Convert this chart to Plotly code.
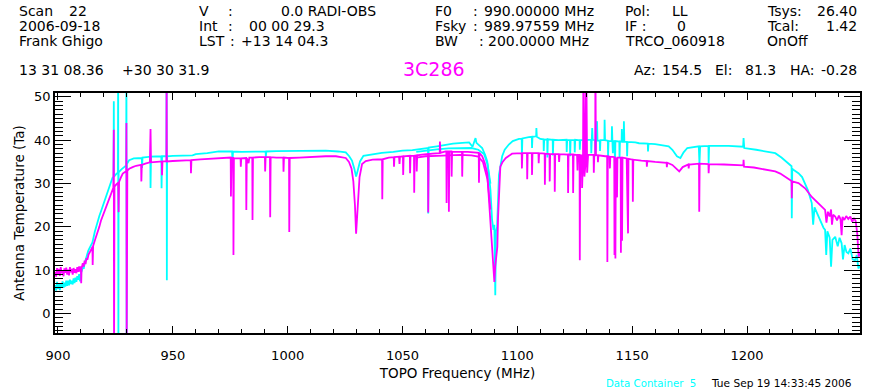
import plotly.graph_objects as go

# ---------------- data ----------------
# off-scale spikes are given as 60 (above the top) or -10 (below the bottom)
cyan_pairs = [
    (898.8, 6.6), (899.2, 5.3), (899.6, 7.3), (900.0, 5.7), (900.4, 7.0), (900.8, 5.4), (901.2, 6.9),
    (901.6, 6.0), (902.0, 7.4), (902.4, 5.9), (902.8, 7.1), (903.2, 6.2), (903.6, 7.6), (904.0, 6.4),
    (904.4, 7.6), (904.8, 6.5), (905.2, 7.8), (905.6, 6.8), (906.0, 7.6), (906.4, 6.7), (906.8, 8.1),
    (907.2, 7.0), (907.6, 8.3), (908.0, 7.3), (908.4, 8.6), (908.8, 7.8), (909.2, 9.1), (909.6, 7.4),
    (910.0, 9.4), (910.4, 9.9), (910.8, 10.9), (911.2, 10.3), (911.6, 11.6), (912.0, 12.3), (912.5, 13.4),
    (913.2, 14.5), (914.0, 15.4), (915.0, 16.4), (916.0, 18.8), (917.0, 20.9), (918.0, 22.5), (919.0, 24.0),
    (920.0, 25.6), (921.0, 27.0), (922.0, 28.5), (923.0, 30.0), (923.7, 31.3), (924.2, 31.6), (924.3, 49.0),
    (924.4, 31.6), (925.5, 32.3), (926.1, 32.5), (926.2, 60), (926.3, -10), (926.4, 32.6), (927.5, 33.2),
    (929.0, 34.0), (929.7, 34.2), (929.8, 60), (929.9, -10), (930.0, 34.5), (931.0, 35.4), (933.0, 35.8),
    (936.5, 35.9), (936.6, 33.6), (936.8, 36.0), (940.2, 36.2), (940.3, 29.0), (940.5, 36.2), (945.0, 36.3),
    (945.1, 28.9), (945.3, 36.3), (947.2, 36.3), (947.3, 60), (947.4, 7.7), (947.5, 36.3), (950.0, 36.4),
    (955.0, 36.5), (958.6, 36.5), (960.0, 36.8), (965.0, 37.0), (970.0, 37.4), (975.8, 37.4), (976.0, 35.1),
    (976.2, 37.4), (980.0, 37.3), (987.6, 37.4), (990.4, 37.4), (990.5, 36.0), (990.7, 37.4), (995.0, 37.5),
    (1000.0, 37.5), (1010.0, 37.6), (1016.6, 37.6), (1022.0, 37.4), (1025.3, 37.2), (1026.8, 36.3),
    (1028.0, 35.3), (1029.0, 33.5), (1029.8, 31.6), (1030.5, 33.0), (1031.5, 35.1), (1033.0, 36.4),
    (1038.0, 36.9), (1041.0, 37.1), (1046.0, 37.3), (1050.0, 37.6), (1054.3, 37.7), (1058.0, 38.0),
    (1061.1, 38.2), (1061.2, 23.1), (1061.4, 38.3), (1065.0, 38.6), (1068.8, 39.0), (1072.0, 39.2),
    (1076.0, 39.4), (1079.0, 39.5), (1080.5, 38.5), (1081.0, 39.5), (1081.8, 40.5), (1082.2, 39.4),
    (1084.7, 38.2), (1086.0, 36.6), (1086.9, 35.1), (1087.7, 31.5), (1088.3, 28.5), (1089.0, 21.6),
    (1089.6, 19.3), (1090.0, 20.5), (1090.4, 4.2), (1090.7, 19.0), (1091.2, 20.0), (1091.6, 26.0),
    (1092.0, 32.0), (1093.4, 36.3), (1094.5, 37.8), (1096.3, 39.0), (1098.0, 39.8), (1100.7, 40.3),
    (1101.9, 40.3), (1102.0, 36.3), (1102.2, 40.4), (1105.0, 40.7), (1106.3, 40.8), (1106.4, 38.2),
    (1106.6, 40.8), (1108.2, 40.9), (1108.3, 42.8), (1108.5, 40.8), (1110.0, 40.3), (1111.4, 40.2),
    (1111.5, 37.5), (1111.7, 40.1), (1113.0, 40.2), (1113.1, 36.0), (1113.3, 40.2), (1115.4, 40.1),
    (1115.5, 36.5), (1115.7, 40.1), (1118.0, 40.0), (1120.0, 40.1), (1121.4, 40.1), (1121.5, 37.3),
    (1121.7, 40.0), (1122.9, 40.0), (1123.0, 36.3), (1123.2, 40.0), (1124.9, 40.0), (1125.0, 37.2),
    (1125.2, 40.1), (1127.1, 40.0), (1127.2, 37.8), (1127.4, 40.0), (1128.9, 40.0), (1129.0, 35.5),
    (1129.2, 40.0), (1131.0, 40.1), (1132.1, 40.1), (1132.2, 37.0), (1132.4, 40.1), (1132.6, 42.8),
    (1132.8, 40.1), (1133.9, 40.0), (1134.0, 36.3), (1134.2, 40.0), (1134.7, 44.4), (1134.9, 39.9),
    (1135.9, 39.9), (1136.0, 37.5), (1136.2, 40.0), (1137.9, 40.0), (1138.0, 44.7), (1138.2, 40.0),
    (1139.4, 39.9), (1139.5, 36.2), (1139.7, 39.8), (1141.1, 39.8), (1141.2, 43.2), (1141.4, 39.8),
    (1141.6, 37.0), (1141.8, 39.8), (1142.4, 39.8), (1142.5, 32.4), (1142.7, 39.8), (1144.4, 39.7),
    (1144.5, 36.0), (1144.7, 39.7), (1145.4, 39.7), (1145.5, 42.6), (1145.7, 39.6), (1146.3, 39.6),
    (1146.4, 44.4), (1146.6, 39.6), (1147.7, 39.6), (1147.8, 36.3), (1148.0, 39.6), (1151.4, 39.5),
    (1153.0, 39.3), (1156.8, 39.2), (1156.9, 37.4), (1157.1, 39.2), (1160.0, 39.1), (1163.0, 38.9),
    (1165.9, 38.6), (1167.5, 37.8), (1169.5, 36.3), (1171.0, 35.9), (1172.4, 37.2), (1174.0, 38.2),
    (1176.0, 38.4), (1179.0, 38.6), (1179.3, 34.5), (1179.6, 38.6), (1183.2, 38.7), (1183.3, 34.7),
    (1183.5, 38.7), (1192.0, 38.7), (1198.3, 38.5), (1198.5, 40.5), (1198.8, 38.2), (1204.0, 37.8),
    (1207.9, 37.4), (1212.3, 37.0), (1215.0, 36.0), (1218.0, 34.7), (1219.4, 34.0), (1219.5, 22.0),
    (1219.7, 33.4), (1220.2, 33.2), (1222.4, 32.4), (1224.0, 31.5), (1225.3, 30.1), (1226.5, 28.5),
    (1228.2, 25.5), (1228.8, 20.5), (1229.4, 24.5), (1231.1, 22.4), (1232.5, 21.0), (1233.3, 19.8),
    (1234.0, 19.3), (1234.5, 13.5), (1235.0, 19.0), (1236.0, 17.5), (1236.6, 10.8), (1237.2, 17.0),
    (1238.4, 17.7), (1239.5, 15.5), (1240.3, 17.5), (1241.2, 16.2), (1241.8, 12.5), (1242.5, 15.8),
    (1243.3, 14.2), (1244.1, 13.9), (1245.0, 15.0), (1246.0, 12.5), (1247.0, 12.3), (1247.8, 13.5),
    (1248.5, 10.4), (1249.2, 11.0),
]

magenta_pairs = [
    (898.8, 9.6), (899.2, 8.5), (899.6, 10.5), (900.0, 9.0), (900.4, 10.3), (900.8, 8.7), (901.2, 10.7),
    (901.6, 9.3), (902.0, 10.0), (902.4, 8.6), (902.8, 10.4), (903.2, 9.4), (903.6, 10.6), (904.0, 9.0),
    (904.4, 10.1), (904.8, 8.8), (905.2, 10.7), (905.6, 9.5), (906.0, 10.3), (906.4, 9.0), (906.8, 10.5),
    (907.2, 9.4), (907.6, 10.2), (908.0, 9.3), (908.4, 10.7), (908.8, 9.6), (909.2, 10.9), (909.6, 9.7),
    (910.0, 10.9), (910.1, 7.0), (910.3, 10.5), (910.8, 11.6), (911.2, 10.8), (911.6, 12.2), (912.0, 11.4),
    (912.4, 12.8), (912.8, 12.4), (913.3, 13.6), (913.7, 14.2), (914.3, 14.6), (915.0, 15.4), (915.1, 11.2),
    (915.3, 15.6), (916.0, 16.8), (916.7, 17.8), (917.3, 18.6), (918.0, 20.0), (918.7, 21.4), (919.5, 22.6),
    (920.3, 23.8), (921.0, 24.7), (921.8, 26.0), (922.6, 27.2), (923.4, 28.2), (924.1, 29.0), (924.3, 42.4),
    (924.4, -10), (924.6, 29.3), (925.4, 29.8), (926.2, 30.2), (926.4, 23.4), (926.6, 30.4), (927.4, 31.4),
    (928.2, 32.3), (929.0, 32.6), (929.7, 32.8), (929.8, 44.0), (929.9, -10), (930.2, 33.0), (931.0, 33.4),
    (932.5, 33.8), (934.0, 34.1), (936.2, 34.3), (936.3, 30.5), (936.5, 34.3), (938.0, 34.6), (940.0, 34.9),
    (940.3, 42.6), (940.5, 34.9), (943.0, 35.0), (945.2, 35.1), (945.3, 31.9), (945.5, 35.1), (947.2, 35.1),
    (947.3, 60), (947.4, 35.1), (950.0, 35.2), (955.0, 35.4), (957.8, 35.4), (957.9, 32.4), (958.1, 35.4),
    (962.0, 35.6), (966.0, 35.7), (970.0, 35.9), (973.0, 36.0), (975.2, 36.0), (975.3, 27.0), (975.6, 35.9),
    (976.3, 35.9), (976.4, 13.5), (976.6, 35.8), (979.5, 35.8), (979.6, 33.9), (979.8, 35.8), (981.9, 35.9),
    (982.0, 23.9), (982.2, 35.9), (983.0, 34.7), (983.3, 36.0), (984.6, 36.0), (984.7, 21.6), (984.9, 36.0),
    (987.6, 36.1), (990.1, 36.1), (990.2, 32.8), (990.4, 36.1), (992.3, 36.1), (992.4, 22.2), (992.6, 36.1),
    (995.0, 36.0), (998.1, 36.0), (998.2, 32.7), (998.4, 36.0), (1000.6, 35.9), (1000.7, 18.8),
    (1000.9, 35.9), (1005.0, 36.0), (1010.0, 36.2), (1016.6, 36.3), (1021.0, 36.3), (1025.3, 35.9),
    (1026.7, 35.0), (1027.8, 33.5), (1028.6, 30.5), (1029.3, 25.0), (1029.8, 18.4), (1030.2, 21.5),
    (1030.6, 27.0), (1031.3, 31.5), (1032.4, 34.5), (1034.0, 35.2), (1037.0, 35.5), (1041.1, 35.6),
    (1041.2, 26.4), (1041.4, 35.6), (1044.0, 36.0), (1046.2, 36.1), (1046.3, 33.9), (1046.5, 36.1),
    (1048.5, 36.2), (1048.7, 34.5), (1048.9, 36.2), (1050.2, 36.3), (1050.3, 32.0), (1050.5, 36.3),
    (1053.2, 36.4), (1053.3, 32.4), (1053.5, 36.4), (1055.0, 36.4), (1055.1, 27.9), (1055.3, 36.4),
    (1056.1, 36.5), (1056.2, 32.8), (1056.4, 36.5), (1058.5, 36.7), (1061.1, 36.8), (1061.2, 23.3),
    (1061.4, 36.8), (1063.0, 36.9), (1066.2, 37.0), (1066.3, 39.7), (1066.5, 37.1), (1068.8, 37.4),
    (1069.1, 37.4), (1069.2, 25.5), (1069.4, 37.4), (1070.1, 37.4), (1070.2, 23.5), (1070.4, 37.4),
    (1071.3, 37.4), (1071.4, 31.6), (1071.6, 37.3), (1074.0, 37.3), (1075.9, 37.3), (1076.0, 31.6),
    (1076.2, 37.3), (1078.5, 37.3), (1081.0, 37.2), (1083.2, 37.1), (1083.3, 30.2), (1083.5, 37.0),
    (1084.7, 36.3), (1085.8, 34.8), (1086.9, 32.4), (1087.7, 26.0), (1088.3, 21.0), (1089.0, 17.0),
    (1089.6, 12.5), (1090.0, 7.3), (1090.4, 11.0), (1090.8, 13.5), (1091.3, 15.4), (1091.6, 22.0),
    (1092.0, 27.0), (1092.6, 33.9), (1093.6, 35.0), (1095.0, 35.9), (1097.7, 36.9), (1100.0, 37.0),
    (1101.9, 37.0), (1102.0, 33.5), (1102.2, 37.0), (1104.2, 37.0), (1104.3, 31.0), (1104.5, 37.0),
    (1106.3, 37.0), (1106.4, 32.0), (1106.6, 37.0), (1109.2, 37.0), (1109.3, 34.7), (1109.5, 37.0),
    (1111.9, 36.9), (1112.0, 29.7), (1112.2, 36.9), (1114.0, 36.8), (1114.1, 30.5), (1114.3, 36.8),
    (1116.2, 36.8), (1116.3, 28.1), (1116.5, 36.8), (1118.0, 36.8), (1118.2, 35.0), (1118.4, 36.8),
    (1122.0, 36.7), (1122.1, 27.8), (1122.3, 36.7), (1124.2, 36.7), (1124.3, 27.8), (1124.5, 36.7),
    (1126.0, 36.6), (1126.2, 33.0), (1126.4, 36.6), (1127.1, 36.6), (1127.2, 12.3), (1127.4, 36.5),
    (1128.1, 36.5), (1128.2, 29.0), (1128.6, 36.0), (1128.8, 60), (1129.2, 31.6), (1129.6, 34.0),
    (1130.0, 60), (1130.4, 32.5), (1130.8, 36.6), (1133.2, 36.6), (1133.3, 32.5), (1133.5, 36.6),
    (1133.9, 36.6), (1134.0, 60), (1134.2, 36.6), (1135.0, 36.5), (1135.1, 34.9), (1135.3, 36.5),
    (1138.3, 36.3), (1139.1, 36.3), (1139.2, 11.9), (1139.4, 36.3), (1140.2, 36.2), (1140.3, 33.5),
    (1140.5, 36.2), (1142.2, 36.1), (1142.3, 13.5), (1142.5, 36.1), (1142.7, 12.7), (1142.9, 36.0),
    (1143.4, 26.8), (1143.6, 36.0), (1145.0, 36.0), (1145.1, 14.0), (1145.3, 36.0), (1145.6, 16.8),
    (1145.8, 36.0), (1147.6, 35.8), (1147.7, 30.9), (1147.9, 35.8), (1148.2, 18.5), (1148.4, 35.7),
    (1150.2, 35.5), (1150.3, 25.8), (1150.5, 35.5), (1154.0, 35.3), (1156.3, 35.2), (1156.4, 33.9),
    (1156.6, 35.2), (1160.0, 35.0), (1164.4, 34.9), (1165.0, 34.8), (1165.1, 33.8), (1165.3, 34.8),
    (1167.5, 34.3), (1169.0, 33.6), (1170.5, 32.8), (1172.0, 33.8), (1174.5, 34.4), (1174.6, 33.5),
    (1174.8, 34.4), (1179.1, 34.6), (1179.2, 23.5), (1179.4, 34.6), (1183.2, 34.5), (1183.3, 32.4),
    (1183.5, 34.5), (1190.0, 34.4), (1195.0, 34.3), (1198.4, 34.2), (1198.5, 35.5), (1198.7, 33.9),
    (1203.0, 33.7), (1207.9, 33.2), (1212.3, 32.8), (1214.5, 32.3), (1216.6, 31.6), (1219.4, 30.6),
    (1219.5, 26.6), (1219.7, 30.5), (1222.4, 30.1), (1225.3, 28.9), (1228.2, 26.9), (1231.1, 25.5),
    (1233.0, 24.5), (1234.0, 23.9), (1234.6, 21.0), (1235.2, 23.5), (1236.0, 22.4), (1236.6, 24.0),
    (1237.0, 20.5), (1237.5, 22.8), (1238.4, 22.4), (1239.2, 21.5), (1240.0, 22.6), (1240.7, 21.8),
    (1241.2, 18.1), (1241.6, 22.3), (1242.4, 21.6), (1243.2, 22.5), (1244.1, 21.8), (1245.0, 22.4),
    (1245.8, 21.2), (1246.6, 21.9), (1247.3, 21.4), (1248.0, 18.5), (1248.6, 13.1), (1249.2, 14.0),
]

# second (overlapping) pass of the spectra around 1056-1088 MHz
cyan_overlap_pairs = [
    (1056.0, 37.3), (1060.0, 37.6), (1065.0, 37.9), (1070.0, 38.1), (1075.0, 38.2), (1080.0, 38.2),
    (1083.0, 37.8), (1085.5, 36.8), (1087.0, 34.5), (1088.3, 30.0),
]
magenta_overlap_pairs = [
    (1056.0, 36.0), (1060.0, 36.3), (1065.0, 36.4), (1070.0, 36.5), (1075.0, 36.6), (1080.0, 36.5),
    (1083.0, 36.2), (1085.0, 35.0), (1087.0, 31.0), (1088.3, 24.0),
]

cyan_freq, cyan_ta = map(list, zip(*cyan_pairs))
magenta_freq, magenta_ta = map(list, zip(*magenta_pairs))
cyan_ov_freq, cyan_ov_ta = map(list, zip(*cyan_overlap_pairs))
magenta_ov_freq, magenta_ov_ta = map(list, zip(*magenta_overlap_pairs))

x_ticks = [900, 950, 1000, 1050, 1100, 1150, 1200]
y_ticks = [0, 10, 20, 30, 40, 50]

CYAN = "#00FFFF"
MAGENTA = "#FF00FF"
FONT = "DejaVu Sans"
LW = 1.8

fig = go.Figure()
fig.add_trace(go.Scatter(x=cyan_freq, y=cyan_ta, mode="lines", line=dict(color=CYAN, width=LW), name="cyan"))
fig.add_trace(go.Scatter(x=cyan_ov_freq, y=cyan_ov_ta, mode="lines", line=dict(color=CYAN, width=LW), name="cyan 2"))
fig.add_trace(go.Scatter(x=magenta_freq, y=magenta_ta, mode="lines", line=dict(color=MAGENTA, width=LW), name="magenta"))
fig.add_trace(go.Scatter(x=magenta_ov_freq, y=magenta_ov_ta, mode="lines", line=dict(color=MAGENTA, width=LW), name="magenta 2"))

W, H = 870, 391
ML, MR, MT, MB = 55, 8, 93, 58
PW, PH = W - ML - MR, H - MT - MB


def px(x):
    return (x - ML) / PW


def py(y):
    return (H - MB - y) / PH


annots = []


def text(s, x, y, anchor="left", color="black", size=14):
    annots.append(dict(text=s, x=px(x), y=py(y + 1), xref="paper", yref="paper",
                       xanchor=anchor, yanchor="middle", showarrow=False,
                       font=dict(family=FONT, size=size, color=color)))


r1, r2, r3, r4 = 10, 25, 40, 69
text("Scan", 17, r1); text("22", 67, r1)
text("2006-09-18", 17, r2)
text("Frank Ghigo", 17, r3)
text("V", 197, r1); text(":", 226, r1); text("0.0 RADI-OBS", 280, r1)
text("Int", 197, r2); text(":", 226, r2); text("00 00 29.3", 247, r2)
text("LST", 197, r3); text(":", 228, r3); text("+13 14 04.3", 239, r3)
text("F0", 434, r1); text(":", 472, r1); text("990.00000 MHz", 483, r1)
text("Fsky", 434, r2); text(":", 472, r2); text("989.97559 MHz", 483, r2)
text("BW", 434, r3); text(":", 478, r3); text("200.0000 MHz", 487, r3)
text("Pol:", 624, r1); text("LL", 672, r1)
text("IF :", 624, r2); text("0", 677, r2)
text("TRCO_060918", 624, r3)
text("Tsys:", 767, r1); text("26.40", 861, r1, anchor="right")
text("Tcal:", 767, r2); text("1.42", 861, r2, anchor="right")
text("OnOff", 767, r3)
text("13 31 08.36", 17, r4); text("+30 30 31.9", 120, r4)
text("3C286", 434.5, r4 - 1, anchor="center", color=MAGENTA, size=19)
text("Az:", 633, r4); text("154.5", 662, r4)
text("El:", 715, r4); text("81.3", 745, r4)
text("HA:", 790, r4); text("-0.28", 861, r4, anchor="right")
text("Data Container  5", 605, 382, color=CYAN, size=10.2)
text("Tue Sep 19 14:33:45 2006", 856, 382, anchor="right", size=10.6)

fig.update_layout(
    width=W, height=H,
    margin=dict(l=ML, r=MR, t=MT, b=MB),
    paper_bgcolor="white", plot_bgcolor="white",
    showlegend=False,
    font=dict(family=FONT, size=13, color="black"),
    annotations=annots,
    xaxis=dict(
        range=[898.7, 1249.2], tickvals=x_ticks, ticks="inside", ticklen=7, tickwidth=1,
        tickcolor="black", showline=True, linecolor="black", linewidth=1.5, mirror="allticks",
        showgrid=False, zeroline=False, ticklabelstandoff=10,
        tickfont=dict(size=13),
        minor=dict(dtick=10, tick0=900, ticks="inside", ticklen=4, tickcolor="black", showgrid=False),
        title=dict(text="TOPO Frequency (MHz)", font=dict(size=13.5), standoff=6),
    ),
    yaxis=dict(
        range=[-4.5, 50.9], tickvals=y_ticks, ticks="inside", ticklen=16, tickwidth=1,
        tickcolor="black", showline=True, linecolor="black", linewidth=1.5, mirror="allticks",
        showgrid=False, zeroline=False, ticklabelstandoff=0,
        tickfont=dict(size=13),
        minor=dict(dtick=1, tick0=0, ticks="inside", ticklen=8, tickcolor="black", showgrid=False),
        title=dict(text="Antenna Temperature (Ta)", font=dict(size=13.5), standoff=6),
    ),
)

fig.write_html(
    "out.html",
    config={"displayModeBar": False},
    post_script="document.body.style.margin='0';document.body.style.overflow='hidden';",
)
